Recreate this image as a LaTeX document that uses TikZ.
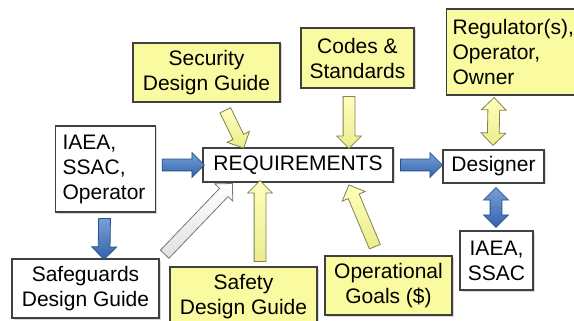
\documentclass[tikz,border=0pt]{standalone}
\usepackage{fontspec}
\setmainfont{Liberation Sans}
\usetikzlibrary{shapes.arrows,calc,shadows}
\definecolor{boxline}{RGB}{64,64,64}
\definecolor{yfill}{RGB}{250,250,160}
\definecolor{yfilltop}{RGB}{255,255,190}
\definecolor{yfillbot}{RGB}{236,236,140}
\definecolor{yline}{RGB}{130,130,80}
\definecolor{bluetop}{RGB}{120,160,215}
\definecolor{bluebot}{RGB}{50,100,170}
\definecolor{blueline}{RGB}{40,80,140}
\definecolor{wline}{RGB}{120,120,120}
\newcommand\blockarr[3]{%
  \path let \p1=#2, \p2=#3, \n1={atan2(\y2-\y1,\x2-\x1)}, \n2={veclen(\x2-\x1,\y2-\y1)} in
    node[#1, minimum height=\n2, rotate=\n1] at ($(\p1)!0.5!(\p2)$) {};}
\tikzset{
  box/.style={draw=boxline, line width=1.2pt, fill=white, align=center,
    font=\fontsize{21}{25}\selectfont, inner sep=0pt,
    drop shadow={shadow xshift=1.5pt, shadow yshift=-1.5pt, fill=black!30}},
  ybox/.style={box, fill=yfill},
  sarrow/.style={single arrow, line width=0.8pt, inner sep=5.5pt, minimum width=0pt,
    single arrow head extend=6.5pt, single arrow tip angle=90},
  darrow/.style={double arrow, line width=0.8pt, inner sep=5.5pt, minimum width=0pt,
    double arrow head extend=6.5pt, double arrow tip angle=90},
  bluec/.style={draw=blueline, top color=bluetop, bottom color=bluebot},
  yellc/.style={draw=yline, top color=yfilltop, bottom color=yfillbot},
  whitec/.style={draw=wline, top color=white, bottom color=black!12},
}
\begin{document}
\begin{tikzpicture}[x=1pt,y=-1pt]
\path[use as bounding box, fill=white] (0,0) rectangle (574,321);
% boxes
\node[ybox, minimum width=147pt, minimum height=59pt] (sec) at (206.5,72.5) {Security\\Design Guide};
\node[ybox, minimum width=113pt, minimum height=60pt] (codes) at (357.5,58) {Codes \&\\Standards};
\node[ybox, text width=124pt, align=left, inner xsep=6pt, minimum height=86pt, anchor=west] (reg) at (446,52) {Regulator(s),\\Operator,\\Owner};
\node[box, text width=86pt, align=left, inner xsep=7pt, minimum height=86pt, anchor=west] (iaeaL) at (55,169) {IAEA,\\SSAC,\\Operator};
\node[box, minimum width=190pt, minimum height=34pt] (req) at (298,165) {REQUIREMENTS};
\node[box, minimum width=101pt, minimum height=33pt] (des) at (493.5,166.5) {Designer};
\node[box, minimum width=73pt, minimum height=59pt] (iaeaR) at (496.5,260.5) {IAEA,\\SSAC};
\node[box, minimum width=147pt, minimum height=59pt] (safeg) at (85.5,288.5) {Safeguards\\Design Guide};
\node[ybox, minimum width=147pt, minimum height=59pt] (safety) at (243.5,296.5) {Safety\\Design Guide};
\node[ybox, minimum width=127pt, minimum height=59pt] (ops) at (388.5,285.5) {Operational\\Goals (\$)};
% arrows
\blockarr{sarrow,yellc}{($(sec.south)+(17.5,5)$)}{($(req.north west)+(40,-2)$)}
\blockarr{sarrow,yellc}{($(codes.south)+(-8.5,5)$)}{($(req.north)+(51,-2)$)}
\blockarr{darrow,yellc}{($(reg.south)+(-20.5,2)$)}{($(des.north)+(-0.5,-4)$)}
\blockarr{sarrow,bluec}{($(iaeaL.east)+(3,-4)$)}{($(req.west)+(-1,0)$)}
\blockarr{sarrow,bluec}{($(req.east)+(4,0)$)}{($(des.west)+(-3,-1.5)$)}
\blockarr{darrow,bluec}{($(des.south)+(2.5,4)$)}{($(iaeaR.north)+(-0.5,-3)$)}
\blockarr{sarrow,bluec}{($(iaeaL.south)+(-1,3)$)}{($(safeg.north)+(18.5,-2)$)}
\blockarr{sarrow,whitec}{($(safeg.north east)+(3,-2)$)}{($(req.south west)+(28,3)$)}
\blockarr{sarrow,yellc}{($(safety.north)+(16.5,-2)$)}{($(req.south)+(-38,1)$)}
\blockarr{sarrow,yellc}{($(ops.north)+(-12.5,-6)$)}{($(req.south)+(52,5)$)}
\end{tikzpicture}
\end{document}
